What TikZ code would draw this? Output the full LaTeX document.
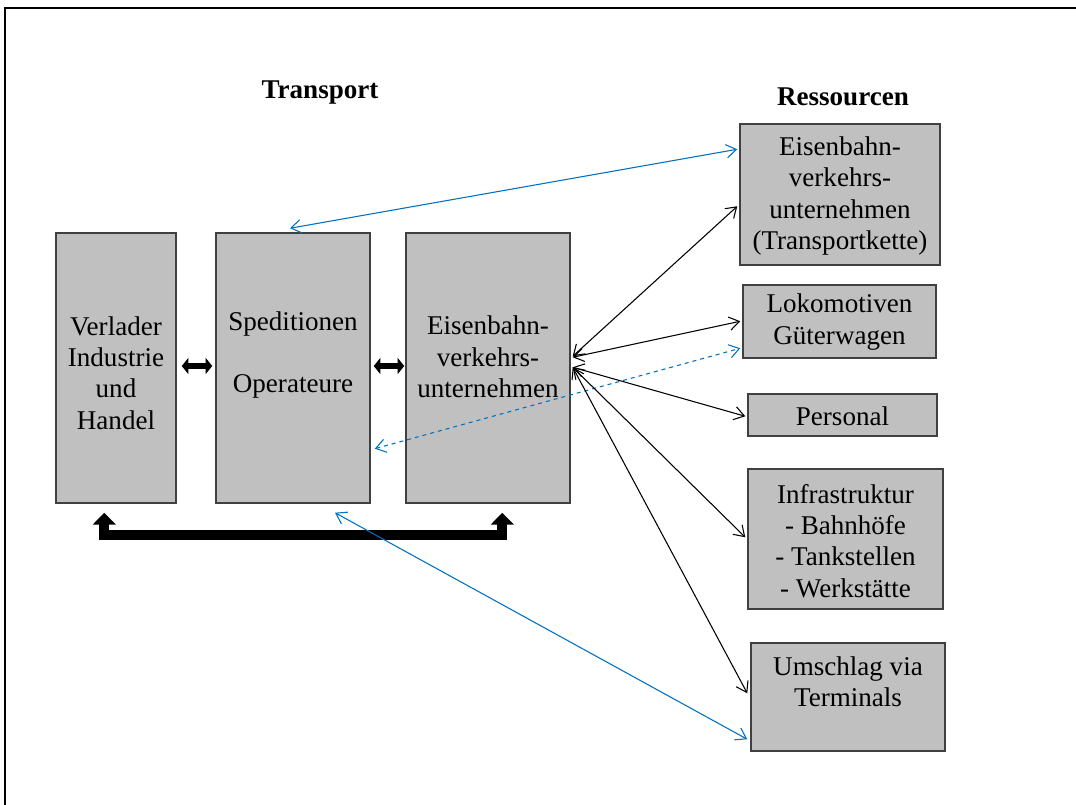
\documentclass[tikz,border=0pt]{standalone}
\usepackage{fontspec}
\setmainfont{Liberation Serif}
\usetikzlibrary{arrows.meta,calc}
\definecolor{boxgray}{RGB}{192,192,192}
\definecolor{boxline}{RGB}{64,64,64}
\definecolor{lineblue}{RGB}{0,112,192}
\begin{document}
\begin{tikzpicture}[x=0.75pt,y=-0.75pt,
  box/.style={draw=boxline,line width=1.1pt,fill=boxgray,inner sep=0pt},
  txt/.style={align=center,font=\fontsize{20.3}{23.5}\selectfont,inner sep=0pt},
  title/.style={font=\fontsize{20.3}{23.5}\selectfont\bfseries,inner sep=0pt},
  conn/.style={line width=0.8pt,{Straight Barb[length=7.5pt,width=10pt]}-{Straight Barb[length=7.5pt,width=10pt]}},
  blueconn/.style={conn,draw=lineblue},
  fat/.style={line width=4.8pt,{Triangle[length=5pt,width=12pt]}-{Triangle[length=5pt,width=12pt]}},
]
\useasboundingbox (0,0) rectangle (1076,805);
% frame
\coordinate (ftl) at (5,8);
\draw[line width=1.7pt] (1076,8) -- (ftl) -- (5,805);

% titles
\node[title] (tTransport) at (320,93) {Transport};
\node[title] (tRess) at (843,97) {Ressourcen};

% left boxes
\node[box,minimum width=90pt,minimum height=202.5pt] (b1) at (116,368) {};
\node[box,minimum width=115.5pt,minimum height=202.5pt] (b2) at (293,368) {};
\node[box,minimum width=123pt,minimum height=202.5pt] (b3) at (488,368) {};
\node[txt] (b1t) at (116,373) {Verlader\\Industrie\\und\\Handel};
\node[txt] (b2t) at (293,355) {Speditionen\\[23.5pt]Operateure};
\node[txt] (b3t) at (488,357) {Eisenbahn-\\verkehrs-\\unternehmen};

% right boxes
\node[box,minimum width=150pt,minimum height=105.75pt] (r1) at (840,194.5) {};
\node[box,minimum width=144.75pt,minimum height=54.75pt] (r2) at (839.5,321.5) {};
\node[box,minimum width=141.75pt,minimum height=31.5pt] (r3) at (842.5,415) {};
\node[box,minimum width=146.25pt,minimum height=105pt] (r4) at (845.5,539) {};
\node[box,minimum width=145.5pt,minimum height=81pt] (r5) at (848,697) {};
\node[txt] (r1t) at (840,196) {Eisenbahn-\\verkehrs-\\unternehmen\\(Transportkette)};
\node[txt] (r2t) at (839.5,322) {Lokomotiven\\Güterwagen};
\node[txt] (r3t) at (842.5,416) {Personal};
\node[txt] (r4t) at (845.5,541) {Infrastruktur\\- Bahnhöfe\\- Tankstellen\\- Werkstätte};
\node[txt] (r5t) at (848,682) {Umschlag via\\Terminals};

% fat double arrows
\draw[fat] ($(b1.east)+(5,-2)$) -- ($(b2.west)+(-3,-2)$);
\draw[fat] ($(b2.east)+(3,-2)$) -- ($(b3.west)+(-1,-2)$);

% U arrow
\draw[line width=7.5pt,{Triangle[length=9pt,width=17pt]}-{Triangle[length=9pt,width=17pt]}]
  ($(b1.south west)+(49,9)$) -- ++(0,22) -| ($(b3.south west)+(97,9)$);

% connectors
\draw[blueconn] ($(b2.north)+(-3,-4)$) -- ($(r1.north west)+(-2,26)$);
\draw[conn] ($(b3.north east)+(2,124)$) -- ($(r1.north west)+(-2,83)$);
\draw[conn] ($(b3.north east)+(2,125)$) -- ($(r2.north west)+(-2,37)$);
\draw[blueconn,dashed] ($(b2.south east)+(4,-55)$) -- ($(r2.north west)+(-2,64)$);
\draw[conn] ($(b3.north east)+(2,135)$) -- ($(r3.north west)+(-2,23)$);
\draw[conn] ($(b3.north east)+(2,135)$) -- ($(r4.north west)+(-2,69)$);
\draw[conn] ($(b3.north east)+(2,135)$) -- ($(r5.north west)+(-3,51)$);
\draw[blueconn] ($(b2.south)+(42,9)$) -- ($(r5.north west)+(-3,97)$);
\end{tikzpicture}
\end{document}
